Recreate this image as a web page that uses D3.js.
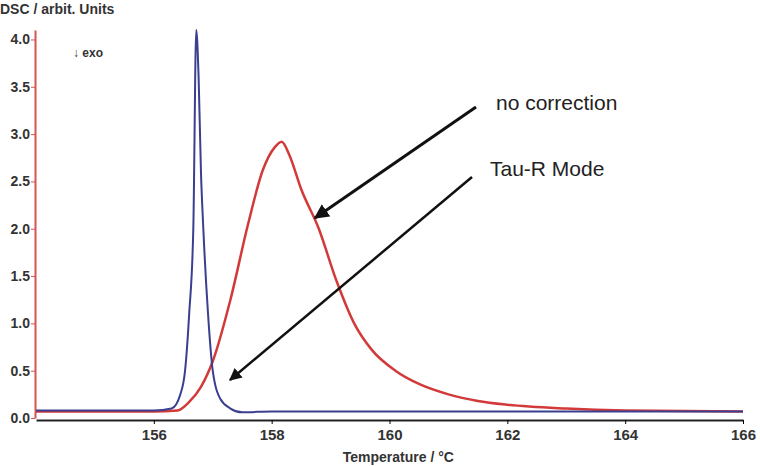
<!DOCTYPE html>
<html><head><meta charset="utf-8">
<script src="https://cdn.jsdelivr.net/npm/d3@7"></script>
<style>body{margin:0;background:#fff}text{font-family:"Liberation Sans",Arial,sans-serif}</style>
</head><body><svg id="c" width="760" height="466"></svg>
<script>
// Tau-R Mode (blue)
const tauT = [154, 155, 156, 156.3, 156.45, 156.53, 156.6, 156.67, 156.72, 156.76, 156.8, 156.84, 156.92, 157.0, 157.13, 157.3, 157.5, 158, 160, 162, 164, 166];
const tauV = [0.08, 0.08, 0.08, 0.1, 0.25, 0.5, 1.1, 2.0, 4.1, 3.6, 2.6, 2.0, 1.1, 0.5, 0.2, 0.1, 0.06, 0.07, 0.07, 0.07, 0.07, 0.07];
// no correction (red)
const rawT = [154, 155, 156, 156.4, 156.6, 156.8, 157.0, 157.3, 157.6, 157.85, 158.05, 158.17, 158.3, 158.5, 158.8, 159.1, 159.4, 159.7, 160.1, 160.5, 161.0, 161.5, 162, 163, 164, 166];
const rawV = [0.07, 0.07, 0.07, 0.08, 0.17, 0.33, 0.6, 1.25, 2.05, 2.62, 2.86, 2.92, 2.78, 2.42, 2.0, 1.45, 1.0, 0.72, 0.5, 0.36, 0.25, 0.18, 0.14, 0.1, 0.08, 0.07];
const xTicks = [156, 158, 160, 162, 164, 166];
const yTicks = [0, 0.5, 1, 1.5, 2, 2.5, 3, 3.5, 4];

const svg = d3.select("#c");
const x = d3.scaleLinear().domain([154, 166]).range([36, 743]);
const y = d3.scaleLinear().domain([0, 4.1]).range([418, 30]);

// bottom axis
const xa = svg.append("g").attr("transform", "translate(0,420)")
  .call(d3.axisBottom(x).tickValues(xTicks).tickSize(4).tickSizeOuter(0).tickFormat(d3.format("d")));
xa.select(".domain").attr("stroke", "#222").attr("stroke-width", 2);
xa.selectAll("text").attr("font-size", 15).attr("font-weight", "bold").attr("fill", "#333").attr("y", 9);

// left axis (red)
const ya = svg.append("g").attr("transform", "translate(35,0)")
  .call(d3.axisLeft(y).tickValues(yTicks).tickSize(4).tickSizeOuter(0).tickFormat(d3.format(".1f")));
ya.select(".domain").attr("stroke", "#d9534f").attr("stroke-width", 2);
ya.selectAll("line").attr("stroke", "#d9534f");
ya.selectAll("text").attr("font-size", 14).attr("font-weight", "bold").attr("fill", "#333").attr("x", -5);

const line = d3.line().x(d => x(d[0])).y(d => y(d[1])).curve(d3.curveMonotoneX);
svg.append("path").datum(rawT.map((t, i) => [t, rawV[i]]))
  .attr("d", line).attr("fill", "none").attr("stroke", "#d23a3a").attr("stroke-width", 2.5);
svg.append("path").datum(tauT.map((t, i) => [t, tauV[i]]))
  .attr("d", line).attr("fill", "none").attr("stroke", "#3a3f8f").attr("stroke-width", 2);

svg.append("text").attr("x", 0).attr("y", 14).attr("font-size", 14).attr("font-weight", "bold").attr("fill", "#333").text("DSC / arbit. Units");
svg.append("text").attr("x", 73).attr("y", 57).attr("font-size", 12).attr("font-weight", "bold").attr("fill", "#333").text("↓ exo");
svg.append("text").attr("x", x(160.15)).attr("y", 462).attr("text-anchor", "middle").attr("font-size", 14).attr("font-weight", "bold").attr("fill", "#333").text("Temperature / °C");

svg.append("defs").append("marker").attr("id", "ah").attr("viewBox", "0 0 10 10")
  .attr("refX", 9).attr("refY", 5).attr("markerWidth", 5).attr("markerHeight", 5).attr("orient", "auto")
  .append("path").attr("d", "M0,0L10,5L0,10z").attr("fill", "#111");
svg.append("line").attr("x1", 476).attr("y1", 107).attr("x2", 315).attr("y2", 218)
  .attr("stroke", "#111").attr("stroke-width", 3).attr("marker-end", "url(#ah)");
svg.append("line").attr("x1", 472).attr("y1", 177).attr("x2", 230).attr("y2", 380)
  .attr("stroke", "#111").attr("stroke-width", 2.5).attr("marker-end", "url(#ah)");
svg.append("text").attr("x", 496).attr("y", 110).attr("font-size", 21).attr("fill", "#222").text("no correction");
svg.append("text").attr("x", 490).attr("y", 176).attr("font-size", 21).attr("fill", "#222").text("Tau-R Mode");
</script></body></html>
